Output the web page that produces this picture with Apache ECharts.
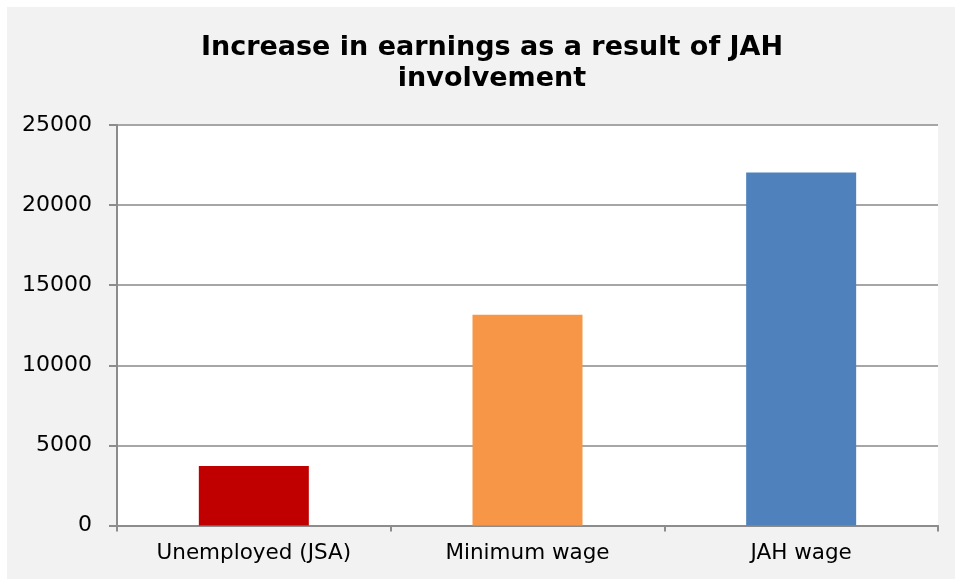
<!DOCTYPE html>
<html>
<head>
<meta charset="utf-8">
<script src="https://cdn.jsdelivr.net/npm/echarts@6/dist/echarts.min.js"></script>
<style>
html,body{margin:0;padding:0;background:#ffffff;}
#c{width:955px;height:579px;}
</style>
</head>
<body>
<div id="c"></div>
<script>
const titleText = "Increase in earnings as a result of JAH\ninvolvement";
const categories = ["Unemployed (JSA)", "Minimum wage", "JAH wage"];
const values = [3720, 13150, 22030];
const barColors = ["#c00000", "#f79646", "#4f81bd"];
const yMin = 0, yMax = 25000, yStep = 5000;

const chart = echarts.init(document.getElementById('c'), null, {renderer: 'canvas'});
chart.setOption({
  backgroundColor: '#ffffff',
  animation: false,
  graphic: [{
    type: 'rect', z: -10, silent: true,
    shape: {x: 7, y: 7, width: 960, height: 580},
    style: {fill: '#f2f2f2'}
  }],
  title: {
    text: titleText,
    left: 487, top: 27, textAlign: 'center',
    textStyle: {fontFamily: 'DejaVu Sans', fontWeight: 'bold', fontSize: 27, lineHeight: 31, color: '#000000'}
  },
  grid: {
    left: 117, right: 17, top: 125, bottom: 53.5,
    show: true, backgroundColor: '#ffffff', borderWidth: 0
  },
  xAxis: {
    type: 'category',
    data: categories,
    axisLine: {show: true, lineStyle: {color: '#8c8c8c', width: 2}},
    axisTick: {show: true, length: 6, alignWithLabel: false, lineStyle: {color: '#8c8c8c', width: 2}},
    axisLabel: {margin: 17, color: '#000000', fontFamily: 'DejaVu Sans', fontSize: 21.5}
  },
  yAxis: {
    type: 'value',
    min: yMin, max: yMax, interval: yStep,
    axisLine: {show: true, lineStyle: {color: '#8c8c8c', width: 2}},
    axisTick: {show: true, length: 8, lineStyle: {color: '#8c8c8c', width: 2}},
    axisLabel: {margin: 25, color: '#000000', fontFamily: 'DejaVu Sans', fontSize: 22, formatter: v => String(v)},
    splitLine: {show: true, lineStyle: {color: '#a6a6a6', width: 2}}
  },
  series: [{
    type: 'bar',
    barWidth: 110,
    data: values.map((v, i) => ({value: v, itemStyle: {color: barColors[i]}}))
  }]
});
</script>
</body>
</html>
